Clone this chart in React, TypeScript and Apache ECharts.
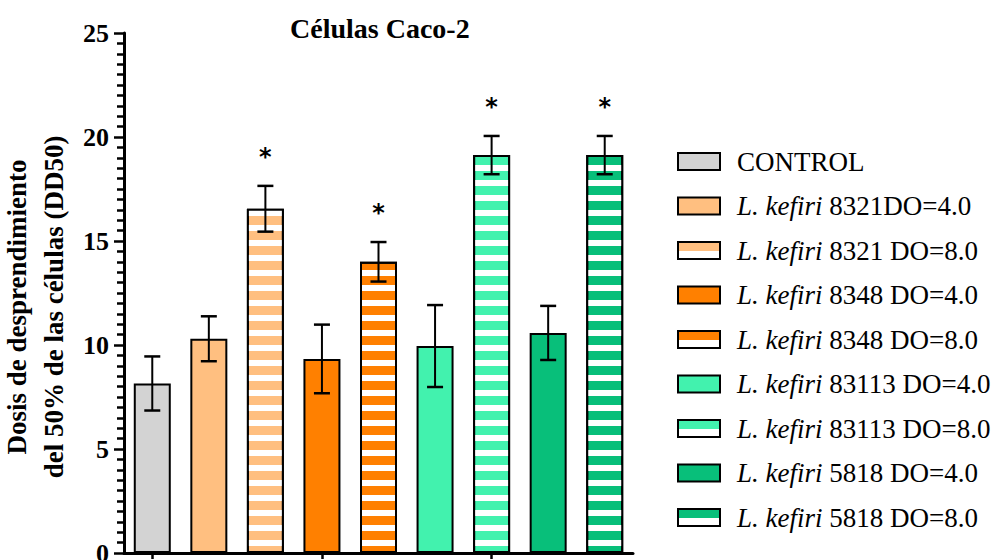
import React, { useEffect, useRef } from "react";
import * as echarts from "echarts";

const categories = [
  "CONTROL",
  "L. kefiri 8321DO=4.0",
  "L. kefiri 8321 DO=8.0",
  "L. kefiri 8348 DO=4.0",
  "L. kefiri 8348 DO=8.0",
  "L. kefiri 83113 DO=4.0",
  "L. kefiri 83113 DO=8.0",
  "L. kefiri 5818 DO=4.0",
  "L. kefiri 5818 DO=8.0",
];
const means = [8.15, 10.3, 16.55, 9.33, 14.0, 9.95, 19.13, 10.58, 19.13];
const errors = [1.3, 1.08, 1.1, 1.65, 0.95, 1.97, 0.92, 1.3, 0.92];
const significant = [false, false, true, false, true, false, true, false, true];
const colors = ["#d3d3d3", "#ffbf80", "#ffbf80", "#ff8000", "#ff8000", "#42f2ae", "#42f2ae", "#08bf7a", "#08bf7a"];
const striped = [false, false, true, false, true, false, true, false, true];
const yTicks = [0, 5, 10, 15, 20, 25];

const SERIF = "'Liberation Serif', 'Times New Roman', serif";

const stripeDecal = {
  symbol: "rect",
  symbolSize: 1,
  dashArrayX: [1, 0],
  dashArrayY: [6, 9],
  rotation: 0,
  color: "#ffffff",
};

export default function App() {
  const ref = useRef<HTMLDivElement>(null);
  useEffect(() => {
    if (!ref.current) return;
    const chart = echarts.init(ref.current, undefined, { renderer: "svg" });

    const barSeries = categories.map((name, i) => ({
      type: "bar",
      name,
      stack: "all",
      barWidth: 37,
      data: means.map((v, j) => (j === i ? v : "-")),
      itemStyle: {
        color: colors[i],
        borderColor: "#000",
        borderWidth: 2,
        ...(striped[i] ? { decal: stripeDecal } : {}),
      },
      z: 2,
    }));

    const errData = means.map((m, i) => [i, m - errors[i], m + errors[i], significant[i] ? 1 : 0]);

    const errorSeries = {
      type: "custom",
      name: "error",
      z: 10,
      data: errData,
      encode: { x: 0, y: [1, 2] },
      renderItem: (params: any, api: any) => {
        const x = api.value(0);
        const lo = api.coord([x, api.value(1)]);
        const hi = api.coord([x, api.value(2)]);
        const sig = api.value(3);
        const cap = 8;
        const children: any[] = [
          { type: "line", shape: { x1: lo[0], y1: lo[1], x2: hi[0], y2: hi[1] }, style: { stroke: "#000", lineWidth: 2 } },
          { type: "line", shape: { x1: hi[0] - cap, y1: hi[1], x2: hi[0] + cap, y2: hi[1] }, style: { stroke: "#000", lineWidth: 2.5 } },
          { type: "line", shape: { x1: lo[0] - cap, y1: lo[1], x2: lo[0] + cap, y2: lo[1] }, style: { stroke: "#000", lineWidth: 2.5 } },
        ];
        if (sig) {
          children.push({
            type: "text",
            x: hi[0],
            y: hi[1] - 29,
            style: {
              text: "*",
              fill: "#000",
              font: "bold 24px 'DejaVu Sans', sans-serif",
              align: "center",
              verticalAlign: "middle",
            },
          });
        }
        return { type: "group", children };
      },
    };

    const legendData = categories.map((name, i) => ({
      name,
      itemStyle: {
        color: striped[i]
          ? {
              type: "linear",
              x: 0,
              y: 0,
              x2: 0,
              y2: 1,
              colorStops: [
                { offset: 0, color: colors[i] },
                { offset: 0.55, color: colors[i] },
                { offset: 0.55, color: "#ffffff" },
                { offset: 1, color: "#ffffff" },
              ],
            }
          : colors[i],
        borderColor: "#000",
        borderWidth: 2,
        decal: "none",
      },
    }));

    chart.setOption({
      animation: false,
      backgroundColor: "#ffffff",
      title: {
        text: "Células Caco-2",
        left: 285,
        top: 9,
        textStyle: { fontFamily: SERIF, fontWeight: "bold", fontSize: 28, color: "#000" },
      },
      grid: { left: 124, right: 370, top: 33, bottom: 7, containLabel: false, outerBoundsMode: "none" },
      legend: {
        orient: "vertical",
        left: 672,
        top: 143,
        icon: "rect",
        itemWidth: 42,
        itemHeight: 17,
        itemGap: 17.5,
        selectedMode: false,
        data: legendData,
        formatter: (name: string) => {
          if (name.startsWith("L. kefiri")) {
            return "{s| }{i|L. kefiri}{n|" + name.slice(9) + "}";
          }
          return "{s| }{n|" + name + "}";
        },
        textStyle: {
          fontFamily: SERIF,
          fontSize: 27,
          color: "#000",
          lineHeight: 27,
          rich: {
            s: { width: 12, fontSize: 27, lineHeight: 27 },
            i: { fontStyle: "italic", fontFamily: SERIF, fontSize: 27, color: "#000", lineHeight: 27 },
            n: { fontFamily: SERIF, fontSize: 27, color: "#000", lineHeight: 27 },
          },
        },
      },
      xAxis: {
        type: "category",
        data: categories,
        boundaryGap: true,
        axisLine: { show: true, lineStyle: { color: "#000", width: 3 } },
        axisTick: { show: true, alignWithLabel: true, length: 6, lineStyle: { color: "#000", width: 2.5 } },
        axisLabel: { show: false },
        splitLine: { show: false },
      },
      yAxis: {
        type: "value",
        min: yTicks[0],
        max: yTicks[yTicks.length - 1],
        interval: 5,
        name: "Dosis de desprendimiento\ndel 50% de las células (DD50)",
        nameLocation: "middle",
        nameGap: 47,
        nameRotate: 90,
        nameTextStyle: {
          fontFamily: SERIF,
          fontWeight: "bold",
          fontSize: 27,
          color: "#000",
          lineHeight: 37,
          padding: [0, 28, 0, 0],
        },
        axisLine: { show: true, lineStyle: { color: "#000", width: 3 } },
        axisTick: { show: true, length: 10, lineStyle: { color: "#000", width: 2.5 } },
        minorTick: { show: true, splitNumber: 10, length: 7, lineStyle: { color: "#000", width: 2.5 } },
        axisLabel: { fontFamily: SERIF, fontWeight: "bold", fontSize: 26, color: "#000", margin: 15 },
        splitLine: { show: false },
        minorSplitLine: { show: false },
      },
      series: [...barSeries, errorSeries],
    });

    return () => chart.dispose();
  }, []);

  return (
    <div
      ref={ref}
      style={{ position: "fixed", left: 0, top: 0, width: 1003, height: 560, background: "#fff" }}
    />
  );
}
